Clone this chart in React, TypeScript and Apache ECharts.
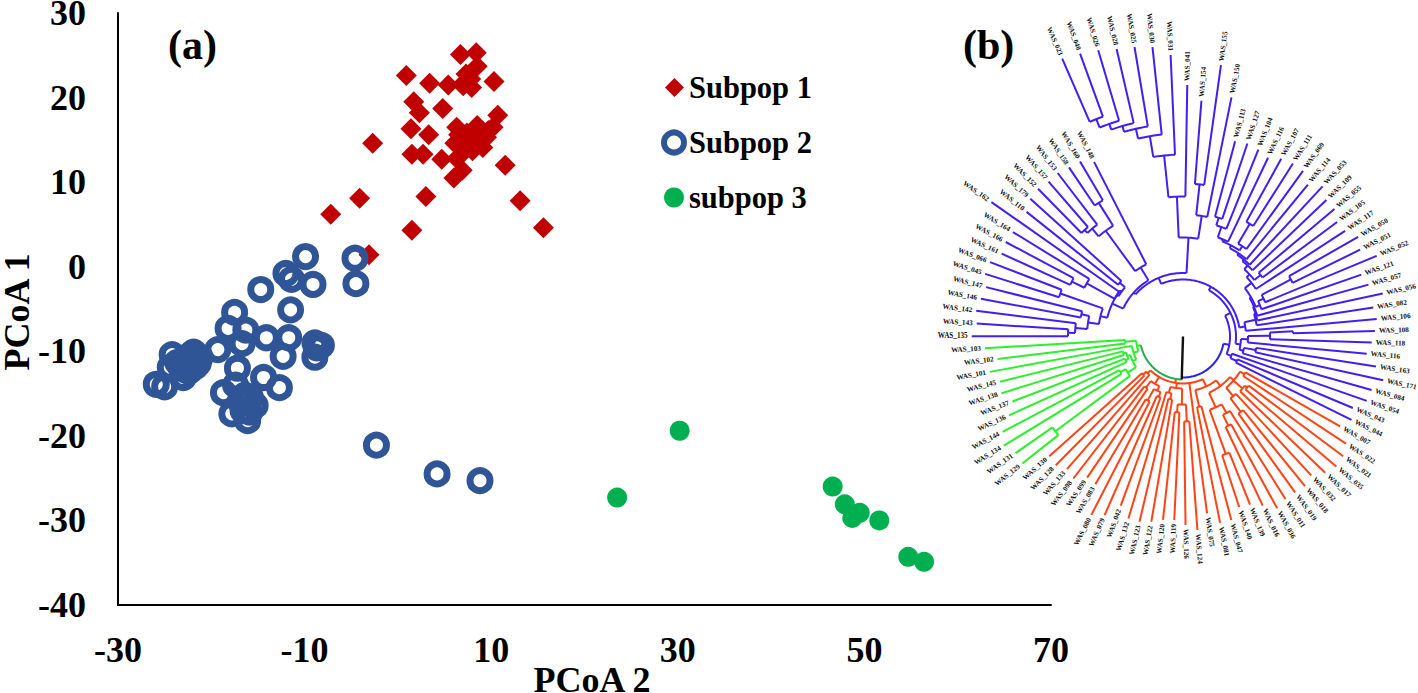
import React, { useEffect, useRef } from "react";
import * as echarts from "echarts";

const SERIF = "'Liberation Serif', 'Times New Roman', serif";

// ---------- panel (a): PCoA scatter, [PCoA 2, PCoA 1] ----------
const subpop1: number[][] = [
  [-2.7, 14.6], [0.9, 22.6], [3.4, 21.7], [1.7, 19.5], [2.3, 18.2], [4.8, 18.7], [1.4, 16.3], [3.3, 15.6],
  [1.5, 13.3], [2.7, 13.3], [4.7, 12.7], [-4.1, 8.1], [-7.2, 6.2], [3.0, 8.3], [1.5, 4.3], [-3.1, 1.4],
  [11.5, 12.0], [13.1, 7.8], [15.6, 4.6], [10.3, 21.9], [6.7, 25.1], [8.4, 25.3], [5.4, 21.5], [8.5, 23.7],
  [7.3, 22.8], [7.9, 21.2], [7.0, 21.4], [6.3, 16.5], [8.5, 16.7], [10.7, 17.9], [10.2, 16.5], [9.5, 15.3],
  [6.1, 14.6], [7.4, 15.8], [8.0, 13.7], [9.1, 14.1], [9.7, 16.1], [6.3, 12.8], [6.9, 11.4], [6.0, 10.5], [6.7, 14.9],
  [7.8, 22.2], [7.2, 21.9], [8.3, 15.5], [7.8, 14.5], [7.0, 13.5], [6.5, 15.6], [8.9, 15.9],
];
const subpop2: number[][] = [
  [-9.9, 1.2], [-12.0, -0.8], [-11.4, -1.5], [-9.1, -2.1], [-14.7, -2.7], [-11.5, -5.1], [-4.6, 1.0], [-4.5, -2.0],
  [-17.5, -5.4], [-18.2, -7.3], [-16.3, -7.5], [-16.7, -9.1], [-14.1, -8.4], [-11.7, -8.4], [-12.3, -10.6],
  [-8.9, -9.0], [-8.2, -9.3], [-8.9, -10.7], [-8.7, -9.6], [-19.3, -9.8], [-17.2, -12.0], [-24.2, -10.4],
  [-21.9, -10.1], [-21.4, -11.4], [-22.6, -12.3], [-24.4, -11.9], [-25.9, -13.9], [-25.0, -14.2], [-23.6, -11.3],
  [-23.0, -13.1], [-21.2, -10.7], [-22.3, -12.3], [-14.4, -13.1], [-12.7, -14.3], [-18.7, -14.9], [-17.4, -14.0],
  [-15.3, -16.4], [-16.4, -15.2], [-17.8, -17.4], [-16.1, -18.2], [-15.9, -17.2], [-16.2, -16.1],
  [-22.0, -11.0], [-21.7, -11.8], [-22.8, -11.2], [-23.2, -12.0], [-22.5, -10.6],
  [-15.8, -15.5], [-16.6, -17.0], [-16.9, -15.9],
  [-2.3, -21.1], [4.2, -24.5], [8.8, -25.3],
];
const subpop3: number[][] = [
  [23.5, -27.3], [30.2, -19.4], [46.6, -26.0], [47.9, -28.1], [49.5, -29.1], [48.7, -29.7], [51.6, -30.0], [54.7, -34.3], [56.4, -34.9],
];

// ---------- panel (b): circular dendrogram, clockwise from WAS_135 ----------
const leafNames: string[] = [
  "WAS_135", "WAS_143", "WAS_142", "WAS_146", "WAS_147", "WAS_045", "WAS_066", "WAS_161", "WAS_166", "WAS_164",
  "WAS_162", "WAS_110", "WAS_179", "WAS_152", "WAS_157", "WAS_153", "WAS_158", "WAS_160", "WAS_148", "WAS_023",
  "WAS_040", "WAS_026", "WAS_028", "WAS_025", "WAS_030", "WAS_031", "WAS_041", "WAS_154", "WAS_155", "WAS_150",
  "WAS_113", "WAS_127", "WAS_104", "WAS_116", "WAS_107", "WAS_111", "WAS_069", "WAS_114", "WAS_053", "WAS_109",
  "WAS_055", "WAS_105", "WAS_117", "WAS_050", "WAS_051", "WAS_052", "WAS_121", "WAS_057", "WAS_056", "WAS_082",
  "WAS_106", "WAS_108", "WAS_118", "WAS_116", "WAS_163", "WAS_171", "WAS_084", "WAS_054", "WAS_043", "WAS_044",
  "WAS_007", "WAS_022", "WAS_021", "WAS_035", "WAS_017", "WAS_032", "WAS_018", "WAS_019", "WAS_011", "WAS_036",
  "WAS_016", "WAS_139", "WAS_140", "WAS_047", "WAS_081", "WAS_075", "WAS_124", "WAS_126", "WAS_119", "WAS_120",
  "WAS_122", "WAS_123", "WAS_132", "WAS_042", "WAS_079", "WAS_080", "WAS_083", "WAS_099", "WAS_098", "WAS_133",
  "WAS_128", "WAS_130", "WAS_129", "WAS_131", "WAS_134", "WAS_144", "WAS_136", "WAS_137", "WAS_138", "WAS_145",
  "WAS_101", "WAS_102", "WAS_103",
];
const leafDepth: number[] = [
  211.3, 206.7, 208.4, 205.6, 203, 207.5, 206.8, 199.4, 200.9, 199.6,
  234, 200, 205.6, 207, 205, 206, 204, 203, 196, 303,
  301, 298.5, 295, 293.5, 291, 281.8, 251.5, 236.5, 274, 244,
  202, 203.4, 201.6, 198, 203, 205, 204.5, 196.7, 205, 198,
  198, 192, 193.5, 201.4, 197.3, 209.8, 188.8, 192.6, 204.3, 192.5,
  194.5, 192, 188.8, 184.5, 195.3, 205, 196, 194.7, 184.3, 188,
  181, 195, 200, 201, 197, 189, 193, 192, 192, 196,
  187, 181, 179.5, 189.7, 190, 178.4, 194, 188.5, 183.7, 184.5,
  187.8, 190.3, 190, 180.3, 195, 200.5, 171.8, 170.6, 179.4, 176.3,
  181, 179.5, 204.8, 204, 209.8, 204, 191, 182.4, 190.3, 188.5,
  196.3, 186.7, 198.4,
];

type Tree = number | { r: number; at?: number; kids: Tree[] };
const N = (r: number, ...kids: Tree[]): Tree => ({ r, kids });
const At = (r: number, at: number, ...kids: Tree[]): Tree => ({ r, at, kids });

// blue clade
const blueLeft = N(78,
  N(85,
    N(96, N(108, N(115, 0, 1), 2), N(104, 3, 4)),
    N(130, 5, 6)),
  N(76,
    N(78, N(110, N(124, 7, 8), 9), 10),
    N(83, 11, 12)));
const blueUpLeft = N(81, N(131, N(141, N(145, 13, 14), 15), N(158, 16, 17)), 18);
const blueTop = N(99,
  N(140, N(182, N(203, N(213, N(219, N(225, N(234, 19, 20), 21), 22), 23), 24), 25), 26),
  N(122, N(153, 27, 28), 29));
const blueLadder = N(87,
  N(91,
    N(96, N(98, N(100, N(103, N(105, N(116, N(124, 30, 31), 32), 33), N(108, N(131, 34, 35), 36)), 37), 38), 39),
    N(99, 40, 41)),
  42);
const blueRight = N(63,
  N(74.5, N(76, N(77, N(78.5, blueLadder, N(83, N(89, N(122, 43, 44), 45), 46)), 47), 48), 49),
  50);
const blueLower = N(58,
  N(65, N(87, At(110, 50.7, 51), 52), 53),
  N(62, N(74, 54, 55), 56));
const blueClade = At(47, 54.4,
  N(53, N(57, N(63.5, N(66, blueLeft, blueUpLeft), blueTop), blueRight), blueLower),
  N(52, 57, N(59, 58, 59)));

// red clade
const redRight = N(55,
  N(62,
    N(67, N(72, 60, 61), N(79, N(82, 62, 63), 64), N(78, 65, N(95, 66, 67))),
    N(78, N(88, 68, N(100, 69, 70)), N(125, 71, 72))),
  N(72, 73, 74));
const redMiddle = N(52,
  N(68, N(85, 76, 77), N(76, 78, 79)),
  N(58, N(64, 80, 81), 82));
const redLeft = N(55, N(60, N(65, 83, 84), N(73, 85, 86)), N(63, 87, 88));
const redClade = N(47, redRight, 75, redMiddle, redLeft, N(51, 89, N(55, 90, 91)));

// green clade
const greenClade = N(47,
  N(52, N(56, N(66, N(159, 92, 93), N(72, 94, 95)), N(59, N(62, 96, 97), N(62, 98, 99))), 100),
  N(58, 101, 102));

const rootDepth = 43;
const rootAngle = 77.7;

type Seg = number[]; // [depth1, angle1, depth2, angle2]

const angleOf = (t: Tree): number => {
  if (typeof t === "number") return t;
  if (t.at !== undefined) return t.at;
  const a = t.kids.map(angleOf);
  return (Math.min(...a) + Math.max(...a)) / 2;
};

const collect = (t: Tree, parentDepth: number, out: Seg[]): Seg[] => {
  const a = angleOf(t);
  if (typeof t === "number") {
    out.push([parentDepth, a, leafDepth[t], a]);
    return out;
  }
  out.push([parentDepth, a, t.r, a]);
  const all = [a, ...t.kids.map(angleOf)];
  out.push([t.r, Math.min(...all), t.r, Math.max(...all)]);
  t.kids.forEach((k) => collect(k, t.r, out));
  return out;
};

const renderBranch = (color: string, width: number) => (_p: any, api: any) => {
  const d1 = api.value(0), a1 = api.value(1), d2 = api.value(2), a2 = api.value(3);
  const steps = a1 === a2 ? 1 : Math.max(2, Math.ceil(Math.abs(a2 - a1) * 3));
  const points: number[][] = [];
  for (let i = 0; i <= steps; i++) {
    const f = i / steps;
    points.push(api.coord([d1 + (d2 - d1) * f, a1 + (a2 - a1) * f]));
  }
  return { type: "polyline", shape: { points }, style: { stroke: color, fill: "none", lineWidth: width, lineJoin: "miter" } };
};

const renderLabel = (_p: any, api: any) => {
  const depth = api.value(0), idx = api.value(1);
  const [x, y] = api.coord([depth + 4, idx]);
  const theta = ((270 + (idx / 103) * 360) % 360);
  const right = theta < 180;
  const rot = ((right ? 90 - theta : 270 - theta) * Math.PI) / 180;
  return {
    type: "text", x, y, rotation: rot,
    style: {
      text: leafNames[idx], textAlign: right ? "left" : "right", textVerticalAlign: "middle",
      fontFamily: SERIF, fontWeight: "bold", fontSize: 7.2, fill: "#111",
    },
  };
};

const branchSeries = (name: string, data: Seg[], color: string, width = 2) => ({
  type: "custom", name, coordinateSystem: "polar", silent: true, clip: false,
  encode: { radius: 0, angle: 1 }, data, renderItem: renderBranch(color, width),
});

const boldText = (fontSize: number) => ({ fontFamily: SERIF, fontWeight: "bold" as const, fontSize, color: "#000" });

export default function App() {
  const ref = useRef<HTMLDivElement>(null);
  useEffect(() => {
    if (!ref.current) return;
    const chart = echarts.init(ref.current, undefined, { renderer: "svg" });
    const blue = "#3f1ff2", red = "#ff4314", green = "#2bf02b";
    chart.setOption({
      animation: false,
      backgroundColor: "#fff",
      title: [
        { text: "(a)", left: 163, top: 19, textStyle: boldText(42) },
        { text: "(b)", left: 958, top: 19, textStyle: boldText(42) },
      ],
      legend: [
        { data: [{ name: "Subpop 1", icon: "diamond" }], left: 660, top: 67, itemWidth: 19, itemHeight: 19, selectedMode: false, textStyle: boldText(30.5) },
        { data: [{ name: "Subpop 2", icon: "circle" }], left: 656, top: 122, itemWidth: 20, itemHeight: 20, selectedMode: false, textStyle: boldText(30.5), itemStyle: { color: "rgba(255,255,255,0)", borderColor: "#2f5597", borderWidth: 6 } },
        { data: [{ name: "subpop 3", icon: "circle" }], left: 659, top: 177, itemWidth: 20, itemHeight: 20, selectedMode: false, textStyle: boldText(30.5) },
      ],
      grid: { left: 118, top: 13, width: 933, height: 592, containLabel: false, outerBoundsMode: "none" },
      xAxis: {
        type: "value", min: -30, max: 70, interval: 20,
        name: "PCoA 2", nameLocation: "middle", nameGap: 57, nameMoveOverlap: false,
        nameTextStyle: { ...boldText(36), padding: [0, 0, 0, 15] },
        axisLine: { onZero: false, lineStyle: { color: "#000", width: 2 } },
        axisTick: { show: false }, splitLine: { show: false },
        axisLabel: { ...boldText(36), margin: 27, showMinLabel: true, showMaxLabel: true, hideOverlap: false },
      },
      yAxis: {
        type: "value", min: -40, max: 30, interval: 10,
        name: "PCoA 1", nameLocation: "middle", nameGap: 83, nameMoveOverlap: false,
        nameTextStyle: { ...boldText(36), padding: [0, 6, 0, 0] },
        axisLine: { onZero: false, lineStyle: { color: "#000", width: 2 } },
        axisTick: { show: false }, splitLine: { show: false },
        axisLabel: { ...boldText(36), margin: 32, showMinLabel: true, showMaxLabel: true, hideOverlap: false },
      },
      polar: { center: [1183, 336.5], radius: [0, 320] },
      radiusAxis: { min: 0, max: 320, show: false, axisLine: { show: false }, axisTick: { show: false }, axisLabel: { show: false }, splitLine: { show: false } },
      angleAxis: { type: "value", min: 0, max: 103, startAngle: 179.9, clockwise: true, show: false, axisLine: { show: false }, axisTick: { show: false }, axisLabel: { show: false }, splitLine: { show: false } },
      series: [
        { type: "scatter", name: "Subpop 1", data: subpop1, symbol: "diamond", symbolSize: 21, itemStyle: { color: "#c00000", opacity: 1 }, silent: true },
        { type: "scatter", name: "Subpop 2", data: subpop2, symbol: "circle", symbolSize: 20, itemStyle: { color: "rgba(255,255,255,0)", borderColor: "#2f5597", borderWidth: 7, opacity: 1 }, silent: true },
        { type: "scatter", name: "subpop 3", data: subpop3, symbol: "circle", symbolSize: 20, itemStyle: { color: "#00b050", opacity: 1 }, silent: true },
        branchSeries("Blue clade", collect(blueClade, 41, []), blue),
        branchSeries("Red clade", collect(redClade, rootDepth, []), red),
        branchSeries("Green clade", collect(greenClade, rootDepth, []), green),
        branchSeries("Root arc blue", [[41, angleOf(blueClade), 41, rootAngle]], "#2424e6"),
        branchSeries("Root arc green", [[rootDepth, rootAngle, rootDepth, angleOf(greenClade)]], "#25ad50"),
        branchSeries("Root", [[0, rootAngle, rootDepth, rootAngle]], "#111", 2.4),
        {
          type: "custom", name: "Leaf labels", coordinateSystem: "polar", silent: true, clip: false,
          encode: { radius: 0, angle: 1 },
          data: leafDepth.map((d, i) => [d, i]),
          renderItem: renderLabel,
        },
      ],
    });
    return () => chart.dispose();
  }, []);
  return <div ref={ref} style={{ position: "fixed", left: 0, top: 0, width: 1418, height: 693 }} />;
}
